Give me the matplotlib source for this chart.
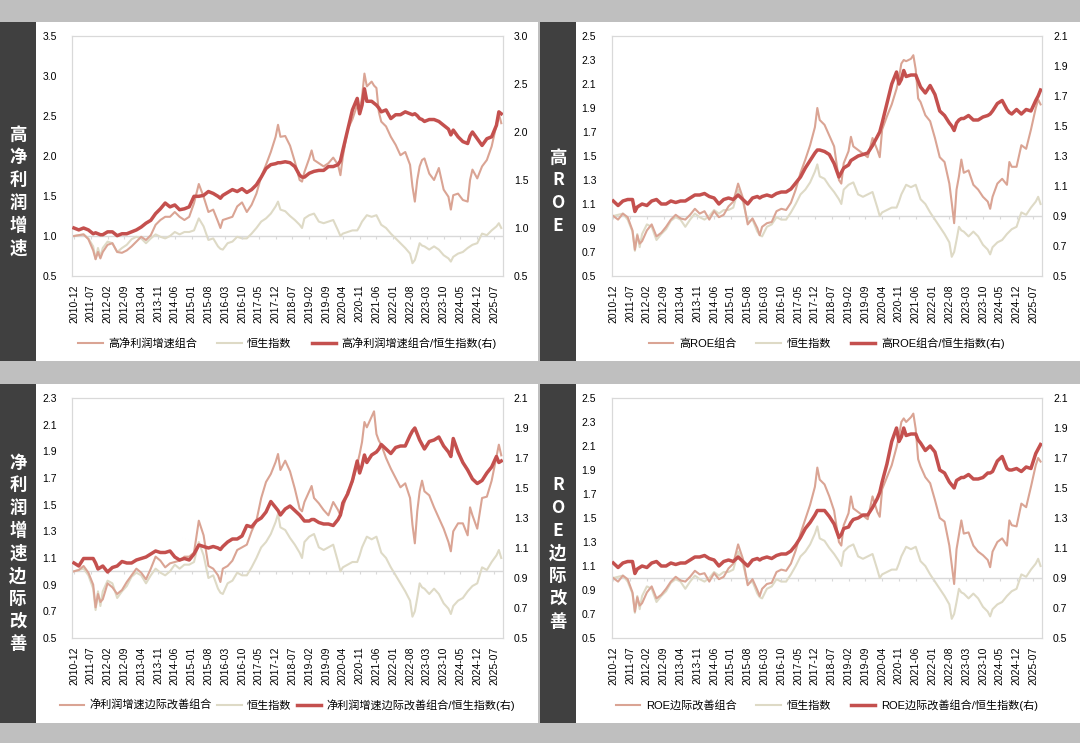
import numpy as np
import matplotlib
matplotlib.use('Agg')
import matplotlib.pyplot as plt
from matplotlib.lines import Line2D
from matplotlib.patches import Rectangle

plt.rcParams['font.family'] = ['Liberation Sans', 'Noto Sans CJK SC', 'DejaVu Sans']

# 月份序号: 0 = 2010-12
months = [
    0, 2, 4, 6, 8, 9, 10, 11, 12, 14,
    16, 18, 20, 22, 24, 26, 28, 30, 32, 34,
    36, 38, 40, 42, 44, 46, 48, 50, 52, 54,
    56, 58, 60, 61, 62, 64, 66, 68, 70, 72,
    74, 76, 78, 80, 82, 84, 85, 86, 88, 90,
    92, 94, 95, 96, 98, 99, 100, 102, 104, 106,
    108, 110, 111, 112, 114, 116, 118, 119, 120, 121,
    122, 124, 125, 126, 127, 128, 130, 132, 134, 136,
    138, 140, 141, 142, 143, 144, 145, 146, 148, 150,
    152, 154, 156, 157, 158, 160, 162, 164, 165, 166,
    168, 170, 172, 174, 176, 177, 178,
]

tick_labels = ['2010-12', '2011-07', '2012-02', '2012-09', '2013-04', '2013-11',
               '2014-06', '2015-01', '2015-08', '2016-03', '2016-10', '2017-05',
               '2017-12', '2018-07', '2019-02', '2019-09', '2020-04', '2020-11',
               '2021-06', '2022-01', '2022-08', '2023-03', '2023-10', '2024-05',
               '2024-12', '2025-07']

# 恒生指数 (归一)
hsi = [
    1.00, 1.01, 1.02, 0.97, 0.87, 0.71, 0.85, 0.74, 0.85, 0.93,
    0.91, 0.80, 0.85, 0.89, 0.96, 0.99, 0.97, 0.91, 0.97, 1.02,
    0.99, 0.97, 1.00, 1.05, 1.02, 1.05, 1.05, 1.07, 1.22, 1.12,
    0.95, 0.97, 0.87, 0.84, 0.83, 0.91, 0.93, 0.99, 0.97, 0.97,
    1.03, 1.10, 1.18, 1.22, 1.28, 1.37, 1.43, 1.33, 1.31, 1.25,
    1.20, 1.14, 1.10, 1.22, 1.26, 1.27, 1.28, 1.18, 1.16, 1.18,
    1.20, 1.07, 1.00, 1.03, 1.05, 1.07, 1.07, 1.12, 1.18, 1.22,
    1.26, 1.24, 1.25, 1.26, 1.20, 1.14, 1.10, 1.03, 0.97, 0.91,
    0.85, 0.78, 0.66, 0.70, 0.80, 0.91, 0.88, 0.87, 0.83, 0.87,
    0.83, 0.76, 0.72, 0.68, 0.74, 0.78, 0.80, 0.85, 0.87, 0.89,
    0.91, 1.03, 1.01, 1.07, 1.12, 1.16, 1.10,
]

# 高净利润增速
profit_port = [
    1.00, 1.01, 1.02, 0.96, 0.82, 0.71, 0.80, 0.72, 0.80, 0.89,
    0.91, 0.80, 0.79, 0.82, 0.87, 0.93, 0.99, 0.95, 1.01, 1.14,
    1.20, 1.24, 1.24, 1.30, 1.24, 1.20, 1.24, 1.41, 1.65, 1.49,
    1.30, 1.33, 1.18, 1.10, 1.20, 1.22, 1.24, 1.37, 1.42, 1.30,
    1.39, 1.53, 1.74, 1.89, 2.05, 2.24, 2.39, 2.24, 2.25, 2.13,
    1.93, 1.70, 1.68, 1.80, 1.97, 2.07, 1.95, 1.91, 1.87, 1.91,
    1.98, 1.89, 1.76, 1.99, 2.33, 2.46, 2.64, 2.55, 2.74, 3.03,
    2.87, 2.93, 2.88, 2.85, 2.55, 2.43, 2.37, 2.24, 2.14, 2.01,
    2.05, 1.89, 1.62, 1.43, 1.70, 1.87, 1.95, 1.97, 1.78, 1.70,
    1.85, 1.58, 1.49, 1.33, 1.51, 1.53, 1.45, 1.43, 1.70, 1.83,
    1.72, 1.87, 1.95, 2.12, 2.39, 2.53, 2.41,
]
profit_ratio = [
    1.00, 0.98, 1.00, 0.98, 0.94, 0.95, 0.94, 0.93, 0.93, 0.96,
    0.96, 0.92, 0.94, 0.94, 0.96, 0.98, 1.01, 1.05, 1.08, 1.15,
    1.20, 1.26, 1.22, 1.24, 1.19, 1.20, 1.22, 1.33, 1.33, 1.34,
    1.38, 1.36, 1.33, 1.31, 1.34, 1.37, 1.40, 1.38, 1.41, 1.37,
    1.40, 1.45, 1.53, 1.62, 1.66, 1.67, 1.68, 1.68, 1.69, 1.68,
    1.64, 1.55, 1.53, 1.53, 1.57, 1.58, 1.59, 1.60, 1.60, 1.64,
    1.64, 1.66, 1.70, 1.81, 2.02, 2.23, 2.35, 2.19, 2.28, 2.45,
    2.32, 2.32, 2.30, 2.28, 2.25, 2.21, 2.23, 2.14, 2.18, 2.18,
    2.21, 2.19, 2.18, 2.19, 2.17, 2.14, 2.13, 2.11, 2.13, 2.13,
    2.11, 2.07, 2.03, 1.97, 2.02, 1.95, 1.90, 1.88, 1.96, 2.00,
    1.93, 1.86, 1.93, 1.95, 2.07, 2.21, 2.19,
]

# 高ROE
roe_port = [
    1.00, 0.97, 1.02, 0.99, 0.88, 0.72, 0.84, 0.77, 0.79, 0.88,
    0.93, 0.83, 0.86, 0.91, 0.97, 1.01, 0.98, 0.97, 1.01, 1.06,
    1.02, 1.04, 0.97, 1.04, 0.99, 1.01, 1.08, 1.12, 1.27, 1.15,
    0.93, 0.98, 0.90, 0.84, 0.91, 0.94, 0.95, 1.04, 1.06, 1.05,
    1.11, 1.22, 1.36, 1.47, 1.59, 1.74, 1.90, 1.80, 1.76, 1.67,
    1.58, 1.30, 1.27, 1.44, 1.54, 1.66, 1.58, 1.55, 1.52, 1.49,
    1.65, 1.55, 1.49, 1.72, 1.83, 1.93, 2.06, 2.15, 2.27, 2.30,
    2.29, 2.31, 2.34, 2.22, 1.98, 1.95, 1.84, 1.79, 1.65, 1.49,
    1.45, 1.27, 1.11, 0.94, 1.22, 1.33, 1.47, 1.36, 1.38, 1.26,
    1.22, 1.16, 1.12, 1.06, 1.16, 1.27, 1.31, 1.26, 1.45, 1.41,
    1.41, 1.59, 1.56, 1.72, 1.90, 1.97, 1.93,
]
roe_ratio = [
    1.00, 0.97, 1.00, 1.01, 1.01, 0.93, 0.96, 0.97, 0.98, 0.97,
    1.00, 1.01, 0.98, 0.98, 1.00, 0.99, 1.00, 1.00, 1.02, 1.04,
    1.04, 1.05, 1.03, 1.02, 0.98, 1.01, 1.02, 1.01, 1.04, 1.01,
    0.98, 1.02, 1.03, 1.02, 1.03, 1.04, 1.03, 1.05, 1.06, 1.06,
    1.08, 1.12, 1.16, 1.22, 1.27, 1.32, 1.34, 1.34, 1.33, 1.31,
    1.25, 1.16, 1.19, 1.22, 1.24, 1.27, 1.28, 1.30, 1.31, 1.32,
    1.37, 1.43, 1.46, 1.52, 1.65, 1.78, 1.86, 1.78, 1.81, 1.87,
    1.83, 1.84, 1.84, 1.84, 1.80, 1.76, 1.72, 1.77, 1.71, 1.60,
    1.57, 1.52, 1.50, 1.47, 1.52, 1.54, 1.55, 1.55, 1.57, 1.54,
    1.54, 1.56, 1.57, 1.58, 1.60, 1.65, 1.67, 1.61, 1.59, 1.58,
    1.61, 1.58, 1.61, 1.60, 1.67, 1.70, 1.74,
]

# 净利润增速边际改善
dprofit_port = [
    1.00, 1.01, 1.04, 0.99, 0.90, 0.73, 0.83, 0.77, 0.79, 0.91,
    0.88, 0.83, 0.86, 0.92, 0.97, 1.02, 0.99, 0.94, 1.02, 1.11,
    1.08, 1.03, 1.06, 1.07, 1.08, 1.11, 1.11, 1.14, 1.38, 1.27,
    1.04, 1.02, 0.97, 0.92, 1.02, 1.04, 1.08, 1.16, 1.18, 1.20,
    1.30, 1.38, 1.55, 1.67, 1.73, 1.82, 1.88, 1.76, 1.83, 1.75,
    1.62, 1.47, 1.45, 1.52, 1.60, 1.64, 1.55, 1.51, 1.46, 1.42,
    1.52, 1.46, 1.42, 1.47, 1.60, 1.67, 1.80, 1.88, 1.97, 2.12,
    2.08, 2.16, 2.20, 2.03, 1.98, 1.95, 1.85, 1.77, 1.70, 1.63,
    1.66, 1.55, 1.35, 1.21, 1.45, 1.60, 1.68, 1.60, 1.57, 1.48,
    1.40, 1.32, 1.22, 1.15, 1.30, 1.36, 1.36, 1.27, 1.48, 1.42,
    1.32, 1.55, 1.56, 1.68, 1.86, 1.95, 1.87,
]
dprofit_ratio = [
    1.00, 0.98, 1.03, 1.03, 1.03, 1.00, 0.96, 0.97, 0.98, 0.94,
    0.97, 0.98, 1.01, 1.00, 1.00, 1.02, 1.03, 1.04, 1.06, 1.08,
    1.07, 1.07, 1.08, 1.04, 1.02, 1.03, 1.02, 1.06, 1.12, 1.11,
    1.10, 1.11, 1.10, 1.09, 1.11, 1.14, 1.16, 1.16, 1.18, 1.25,
    1.24, 1.28, 1.30, 1.34, 1.41, 1.37, 1.35, 1.32, 1.36, 1.38,
    1.35, 1.32, 1.30, 1.28, 1.28, 1.29, 1.29, 1.27, 1.26, 1.26,
    1.25, 1.29, 1.32, 1.40, 1.46, 1.55, 1.68, 1.60, 1.65, 1.72,
    1.67, 1.72, 1.73, 1.74, 1.76, 1.79, 1.76, 1.73, 1.77, 1.78,
    1.78, 1.85, 1.88, 1.90, 1.86, 1.82, 1.79, 1.76, 1.81, 1.82,
    1.84, 1.78, 1.74, 1.71, 1.83, 1.74, 1.67, 1.62, 1.59, 1.56,
    1.53, 1.55, 1.60, 1.64, 1.71, 1.67, 1.68,
]

# ROE边际改善
droe_port = [
    1.00, 0.97, 1.02, 0.99, 0.88, 0.72, 0.84, 0.77, 0.79, 0.88,
    0.93, 0.83, 0.86, 0.91, 0.97, 1.01, 0.98, 0.97, 1.01, 1.06,
    1.03, 1.04, 0.97, 1.04, 0.99, 1.01, 1.08, 1.12, 1.28, 1.16,
    0.94, 0.99, 0.90, 0.85, 0.91, 0.95, 0.96, 1.05, 1.07, 1.06,
    1.12, 1.23, 1.37, 1.49, 1.61, 1.76, 1.92, 1.82, 1.78, 1.68,
    1.56, 1.30, 1.27, 1.44, 1.54, 1.68, 1.58, 1.55, 1.52, 1.49,
    1.68, 1.55, 1.51, 1.74, 1.84, 1.94, 2.09, 2.18, 2.30, 2.33,
    2.30, 2.34, 2.37, 2.24, 1.99, 1.93, 1.84, 1.79, 1.65, 1.50,
    1.47, 1.27, 1.11, 0.95, 1.24, 1.36, 1.48, 1.37, 1.38, 1.27,
    1.22, 1.19, 1.15, 1.09, 1.22, 1.30, 1.33, 1.27, 1.48, 1.44,
    1.43, 1.62, 1.59, 1.76, 1.94, 2.00, 1.97,
]
droe_ratio = [
    1.00, 0.97, 1.00, 1.01, 1.01, 0.93, 0.96, 0.97, 0.98, 0.97,
    1.00, 1.01, 0.98, 0.98, 1.00, 0.99, 1.00, 1.00, 1.02, 1.04,
    1.04, 1.05, 1.03, 1.02, 0.98, 1.01, 1.02, 1.01, 1.04, 1.01,
    0.98, 1.02, 1.03, 1.02, 1.03, 1.04, 1.03, 1.05, 1.06, 1.06,
    1.08, 1.12, 1.17, 1.23, 1.27, 1.32, 1.35, 1.35, 1.35, 1.31,
    1.26, 1.17, 1.19, 1.23, 1.24, 1.27, 1.29, 1.30, 1.32, 1.32,
    1.37, 1.43, 1.47, 1.54, 1.66, 1.81, 1.90, 1.81, 1.84, 1.90,
    1.85, 1.86, 1.86, 1.86, 1.82, 1.80, 1.75, 1.78, 1.74, 1.62,
    1.60, 1.54, 1.52, 1.50, 1.55, 1.56, 1.57, 1.57, 1.59, 1.56,
    1.56, 1.57, 1.60, 1.60, 1.61, 1.68, 1.71, 1.63, 1.62, 1.62,
    1.63, 1.61, 1.64, 1.63, 1.73, 1.76, 1.79,
]

panels = [
    ('高净利润增速', '高净利润增速组合', profit_port, profit_ratio, (0.5, 3.5, 0.5), (0.5, 3.0, 0.5)),
    ('高ROE', '高ROE组合', roe_port, roe_ratio, (0.5, 2.5, 0.2), (0.5, 2.1, 0.2)),
    ('净利润增速边际改善', '净利润增速边际改善组合', dprofit_port, dprofit_ratio, (0.5, 2.3, 0.2), (0.5, 2.1, 0.2)),
    ('ROE边际改善', 'ROE边际改善组合', droe_port, droe_ratio, (0.5, 2.5, 0.2), (0.5, 2.1, 0.2)),
]

c_port = '#DAA494'
c_hsi = '#DEDAC6'
c_ratio = '#C4504E'
c_grid = '#D9D9D9'

W, H = 1080, 743
fig = plt.figure(figsize=(W / 100, H / 100), dpi=100, facecolor='#BFBFBF')


def box(x0, y0, x1, y1, color):
    fig.add_artist(Rectangle((x0 / W, 1 - y1 / H), (x1 - x0) / W, (y1 - y0) / H,
                             transform=fig.transFigure, facecolor=color,
                             edgecolor='none', zorder=-5))


panel_boxes = [(0, 22, 538, 361), (540, 22, 1080, 361), (0, 384, 538, 723), (540, 384, 1080, 723)]
ax_origin = [(72.3, 36), (611.6, 36), (72.3, 398), (611.6, 398)]
col_space = [1.8, 1.8, 0.45, 1.8]
aw, ah = 430.4, 240
tick_pos = [7 * i for i in range(len(tick_labels))]

for (side, name, port, ratio, yl, yr), (x0, y0, x1, y1), (axl, axt), cs in zip(
        panels, panel_boxes, ax_origin, col_space):
    box(x0, y0, x1, y1, 'white')
    box(x0, y0, x0 + 36, y1, '#404040')

    # 左侧竖排标题
    chars = list(side)
    cy = (y0 + y1) / 2
    for i, ch in enumerate(chars):
        yy = cy + (i - (len(chars) - 1) / 2) * 22.7
        fig.text((x0 + 18) / W, 1 - yy / H, ch, color='white', fontsize=12.5, fontweight='bold',
                 ha='center', va='center', family=['Noto Sans CJK SC'])

    ax = fig.add_axes([axl / W, 1 - (axt + ah) / H, aw / W, ah / H])
    ax.plot(months, port, color=c_port, lw=1.5, zorder=3)
    ax.plot(months, hsi, color=c_hsi, lw=1.5, zorder=2)
    ax.axhline(1.0, color=c_grid, lw=1.0, zorder=1)
    ax.set_xlim(-0.7, 178.6)
    ax.set_ylim(yl[0], yl[1])
    ax.set_yticks(np.round(np.arange(yl[0], yl[1] + yl[2] / 2, yl[2]), 1))
    ax.set_yticklabels(['%.1f' % v for v in ax.get_yticks()], fontsize=7.5)
    ax.set_xticks(tick_pos)
    ax.set_xticklabels(tick_labels, rotation=90, fontsize=7.5)
    ax.tick_params(axis='x', length=0, pad=6)
    ax.tick_params(axis='y', length=0, pad=11)
    yf = (1.0 - yl[0]) / (yl[1] - yl[0])
    ax.vlines(tick_pos, yf - 3 / ah, yf, transform=ax.get_xaxis_transform(), color=c_grid, lw=0.8)
    for s in ax.spines.values():
        s.set_color(c_grid)
        s.set_linewidth(0.8)

    ax2 = ax.twinx()
    ax2.plot(months, ratio, color=c_ratio, lw=2.5, zorder=3)
    ax2.set_xlim(-0.7, 178.6)
    ax2.set_ylim(yr[0], yr[1])
    ax2.set_yticks(np.round(np.arange(yr[0], yr[1] + yr[2] / 2, yr[2]), 1))
    ax2.set_yticklabels(['%.1f' % v for v in ax2.get_yticks()], fontsize=7.5)
    ax2.tick_params(axis='y', length=0, pad=8)
    for s in ax2.spines.values():
        s.set_color(c_grid)
        s.set_linewidth(0.8)

    handles = [Line2D([], [], color=c_port, lw=1.5),
               Line2D([], [], color=c_hsi, lw=1.5),
               Line2D([], [], color=c_ratio, lw=2.5)]
    labels = [name, '恒生指数', name + '/恒生指数(右)']
    ax2.legend(handles, labels, loc='center', bbox_to_anchor=(0.5, -0.279), ncol=3,
               frameon=False, fontsize=8, handlelength=2.2, handletextpad=0.5,
               columnspacing=cs)

fig.savefig('out.png', dpi=100, facecolor=fig.get_facecolor())
